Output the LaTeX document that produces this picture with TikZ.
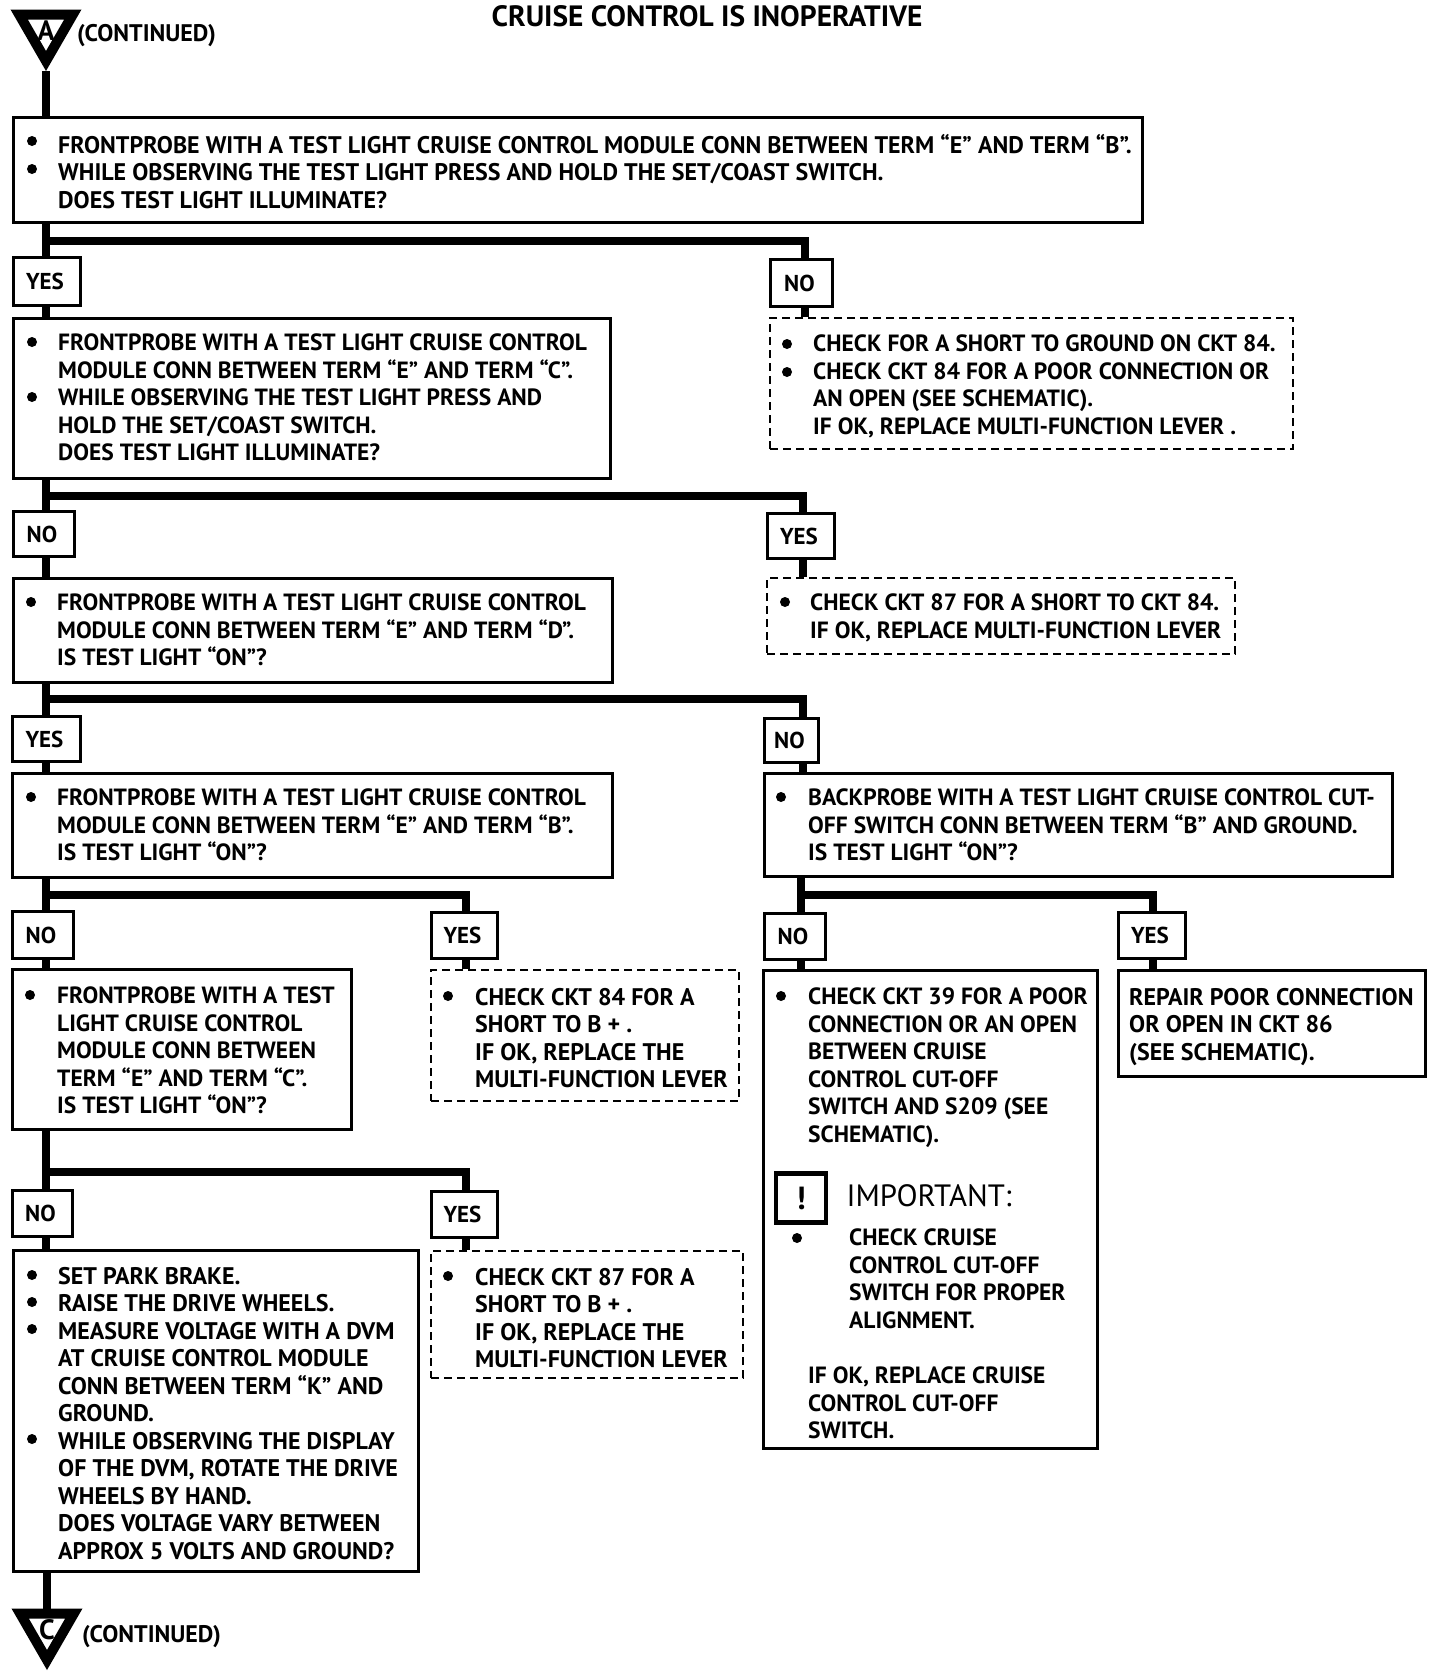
\documentclass[tikz,border=0pt]{standalone}
\usepackage{fontspec}
\setmainfont{PT Sans}
\usetikzlibrary{shapes.geometric, calc}
\tikzset{
  bodytxt/.style={anchor=north west, align=left, inner sep=0pt, yshift=1pt, font=\fontsize{23.5}{27.5}\selectfont\bfseries},
  widetxt/.style={bodytxt, font=\fontsize{24}{27.5}\selectfont\bfseries},
  qbox/.style={draw, line width=2.6pt, fill=white, anchor=north west, inner sep=0pt, xshift=-1pt, yshift=1pt},
  dashbox/.style={qbox, dashed, dash pattern=on 8pt off 5pt, line width=2.4pt},
  tagbox/.style={qbox, line width=3pt, font=\fontsize{23}{24}\selectfont\bfseries, execute at end node=\hspace{4pt}},
  dot/.style={circle, fill=black, inner sep=0pt, minimum size=10pt},
  flow/.style={line width=7.5pt, line cap=butt},
  contmark/.style={regular polygon, regular polygon sides=3, shape border rotate=180, draw, line width=10pt, inner sep=0pt, minimum size=62pt},
}
\begin{document}
\begin{tikzpicture}[x=1pt, y=-1pt]
  \useasboundingbox (0,0) rectangle (1440,1674);

  % Header
  \node[contmark] (markA) at (46,30) {};
  \node[font=\fontsize{28}{28}\selectfont\bfseries] (letterA) at (46,31) {A};
  \node[widetxt, anchor=west] (contA) at (77,37) {(CONTINUED)};
  \node[font=\fontsize{29.4}{30}\selectfont\bfseries] (title) at (707,16) {CRUISE CONTROL IS INOPERATIVE};

  % Left column boxes
  \node[qbox, minimum width=1129pt, minimum height=105pt] (q1) at (13,117) {};
  \node[tagbox, minimum width=67pt, minimum height=48pt] (yes1) at (13,257) {YES};
  \node[qbox, minimum width=597pt, minimum height=160pt] (q2) at (13,318) {};
  \node[tagbox, minimum width=61pt, minimum height=45pt] (no2) at (13,511) {NO};
  \node[qbox, minimum width=599pt, minimum height=104pt] (q3) at (13,578) {};
  \node[tagbox, minimum width=68pt, minimum height=45pt] (yes3) at (12,716) {YES};
  \node[qbox, minimum width=600pt, minimum height=104pt] (q4) at (12,773) {};
  \node[tagbox, minimum width=61pt, minimum height=47pt] (no4) at (12,911) {NO};
  \node[qbox, minimum width=339pt, minimum height=160pt] (q6) at (12,969) {};
  \node[tagbox, minimum width=60pt, minimum height=46pt] (no6) at (12,1190) {NO};
  \node[qbox, minimum width=405pt, minimum height=321pt] (q9) at (13,1250) {};

  % Middle column boxes
  \node[tagbox, minimum width=66pt, minimum height=46pt] (yes4) at (431,912) {YES};
  \node[dashbox, minimum width=308pt, minimum height=131pt] (r4) at (431,970) {};
  \node[tagbox, minimum width=66pt, minimum height=46pt] (yes6) at (431,1191) {YES};
  \node[dashbox, minimum width=312pt, minimum height=127pt] (r6) at (431,1251) {};

  % Right column boxes
  \node[tagbox, minimum width=62pt, minimum height=47pt] (no1) at (770,259) {NO};
  \node[dashbox, minimum width=523pt, minimum height=131pt] (r1) at (770,318) {};
  \node[tagbox, minimum width=67pt, minimum height=45pt] (yes2) at (767,513) {YES};
  \node[dashbox, minimum width=468pt, minimum height=76pt] (r2) at (767,578) {};
  \node[tagbox, minimum width=54pt, minimum height=44pt] (no3) at (764,718) {NO};
  \node[qbox, minimum width=628pt, minimum height=103pt] (q5) at (764,773) {};
  \node[tagbox, minimum width=61pt, minimum height=46pt] (no5) at (764,913) {NO};
  \node[qbox, minimum width=334pt, minimum height=478pt] (q7) at (763,970) {};
  \node[tagbox, minimum width=67pt, minimum height=46pt] (yes5) at (1118,912) {YES};
  \node[qbox, line width=3.2pt, minimum width=307pt, minimum height=106pt] (q8) at (1118,970) {};

  % Branch points
  \coordinate (tk) at (46,0);
  \coordinate (j1) at (46,241);
  \coordinate (j1r) at (805,241);
  \coordinate (j2) at (46,496);
  \coordinate (j2r) at (803,496);
  \coordinate (j3) at (46,699);
  \coordinate (j3r) at (803,699);
  \coordinate (j4) at (46,895);
  \coordinate (j4r) at (466,895);
  \coordinate (j5) at (801,895);
  \coordinate (j5r) at (1153,895);
  \coordinate (j6) at (46,1172);
  \coordinate (j6r) at (466,1172);

  % Connectors
  \draw[flow] (markA.south -| tk) -- (q1.north -| tk);
  \draw[flow] (q1.south -| tk) -- (yes1.north -| tk);
  \draw[flow] (yes1.south -| tk) -- (q2.north -| tk);
  \draw[flow] (q2.south -| tk) -- (no2.north -| tk);
  \draw[flow] (no2.south -| tk) -- (q3.north -| tk);
  \draw[flow] (q3.south -| tk) -- (yes3.north -| tk);
  \draw[flow] (yes3.south -| tk) -- (q4.north -| tk);
  \draw[flow] (q4.south -| tk) -- (no4.north -| tk);
  \draw[flow] (no4.south -| tk) -- (q6.north -| tk);
  \draw[flow] (q6.south -| tk) -- (no6.north -| tk);
  \draw[flow] (no6.south -| tk) -- (q9.north -| tk);
  \draw[flow] (j1) -- (j1r) -- (no1.north -| j1r);
  \draw[flow] (no1.south -| j1r) -- (r1.north -| j1r);
  \draw[flow] (j2) -- (j2r) -- (yes2.north -| j2r);
  \draw[flow] (yes2.south -| j2r) -- (r2.north -| j2r);
  \draw[flow] (j3) -- (j3r) -- (no3.north -| j3r);
  \draw[flow] (no3.south -| j3r) -- (q5.north -| j3r);
  \draw[flow] (j4) -- (j4r) -- (yes4.north -| j4r);
  \draw[flow] (yes4.south -| j4r) -- (r4.north -| j4r);
  \draw[flow] (j6) -- (j6r) -- (yes6.north -| j6r);
  \draw[flow] (yes6.south -| j6r) -- (r6.north -| j6r);
  \draw[flow] (q5.south -| j5) -- (no5.north -| j5);
  \draw[flow] (no5.south -| j5) -- (q7.north -| j5);
  \draw[flow] (j5) -- (j5r) -- (yes5.north -| j5r);
  \draw[flow] (yes5.south -| j5r) -- (q8.north -| j5r);

  % Box texts
  \node[dot] (d1a) at (32,141) {};
  \node[dot] (d1b) at (32,169) {};
  \node[widetxt] (t1) at (58,135) {FRONTPROBE WITH A TEST LIGHT CRUISE CONTROL MODULE CONN BETWEEN TERM “E” AND TERM “B”.\\WHILE OBSERVING THE TEST LIGHT PRESS AND HOLD THE SET/COAST SWITCH.\\DOES TEST LIGHT ILLUMINATE?};

  \node[dot] (d2a) at (32,342) {};
  \node[dot] (d2b) at (32,397) {};
  \node[bodytxt] (t2) at (58,335) {FRONTPROBE WITH A TEST LIGHT CRUISE CONTROL\\MODULE CONN BETWEEN TERM “E” AND TERM “C”.\\WHILE OBSERVING THE TEST LIGHT PRESS AND\\HOLD THE SET/COAST SWITCH.\\DOES TEST LIGHT ILLUMINATE?};

  \node[dot] (d3) at (787,344) {};
  \node[dot] (d3b) at (787,372) {};
  \node[bodytxt] (t3) at (813,336) {CHECK FOR A SHORT TO GROUND ON CKT 84.\\CHECK CKT 84 FOR A POOR CONNECTION OR\\AN OPEN (SEE SCHEMATIC).\\IF OK, REPLACE MULTI-FUNCTION LEVER .};

  \node[dot] (d4) at (31,602) {};
  \node[bodytxt] (t4) at (57,595) {FRONTPROBE WITH A TEST LIGHT CRUISE CONTROL\\MODULE CONN BETWEEN TERM “E” AND TERM “D”.\\IS TEST LIGHT “ON”?};

  \node[dot] (d5) at (785,602) {};
  \node[bodytxt] (t5) at (810,595) {CHECK CKT 87 FOR A SHORT TO CKT 84.\\IF OK, REPLACE MULTI-FUNCTION LEVER};

  \node[dot] (d6) at (31,797) {};
  \node[bodytxt] (t6) at (57,790) {FRONTPROBE WITH A TEST LIGHT CRUISE CONTROL\\MODULE CONN BETWEEN TERM “E” AND TERM “B”.\\IS TEST LIGHT “ON”?};

  \node[dot] (d7) at (781,797) {};
  \node[bodytxt] (t7) at (808,790) {BACKPROBE WITH A TEST LIGHT CRUISE CONTROL CUT-\\OFF SWITCH CONN BETWEEN TERM “B” AND GROUND.\\IS TEST LIGHT “ON”?};

  \node[dot] (d8) at (30,995) {};
  \node[bodytxt] (t8) at (57,988) {FRONTPROBE WITH A TEST\\LIGHT CRUISE CONTROL\\MODULE CONN BETWEEN\\TERM “E” AND TERM “C”.\\IS TEST LIGHT “ON”?};

  \node[dot] (d9) at (448,996) {};
  \node[widetxt] (t9) at (475,989) {CHECK CKT 84 FOR A\\SHORT TO B + .\\IF OK, REPLACE THE\\MULTI-FUNCTION LEVER};

  \node[dot] (d10) at (781,996) {};
  \node[bodytxt] (t10) at (808,989) {CHECK CKT 39 FOR A POOR\\CONNECTION OR AN OPEN\\BETWEEN CRUISE\\CONTROL CUT-OFF\\SWITCH AND S209 (SEE\\SCHEMATIC).};

  \node[widetxt] (t11) at (1129,989) {REPAIR POOR CONNECTION\\OR OPEN IN CKT 86\\(SEE SCHEMATIC).};

  % Important note
  \node[draw, line width=4.5pt, minimum width=50pt, minimum height=49pt, inner sep=0pt] (warn) at (801,1198) {};
  \node[font=\fontsize{32}{32}\selectfont\bfseries] (warnx) at (warn) {!};
  \node[font=\fontsize{30.8}{32}\selectfont, anchor=west] (imp) at (843,1196) {IMPORTANT:};
  \node[dot] (d12) at (797,1238) {};
  \node[bodytxt] (t12) at (849,1230) {CHECK CRUISE\\CONTROL CUT-OFF\\SWITCH FOR PROPER\\ALIGNMENT.};
  \node[bodytxt] (t13) at (808,1368) {IF OK, REPLACE CRUISE\\CONTROL CUT-OFF\\SWITCH.};

  \node[dot] (d14a) at (32,1275) {};
  \node[dot] (d14b) at (32,1302) {};
  \node[dot] (d14c) at (32,1329) {};
  \node[dot] (d14d) at (32,1439) {};
  \node[widetxt] (t14) at (58,1268) {SET PARK BRAKE.\\RAISE THE DRIVE WHEELS.\\MEASURE VOLTAGE WITH A DVM\\AT CRUISE CONTROL MODULE\\CONN BETWEEN TERM “K” AND\\GROUND.\\WHILE OBSERVING THE DISPLAY\\OF THE DVM, ROTATE THE DRIVE\\WHEELS BY HAND.\\DOES VOLTAGE VARY BETWEEN\\APPROX 5 VOLTS AND GROUND?};

  \node[dot] (d15) at (448,1276) {};
  \node[widetxt] (t15) at (475,1269) {CHECK CKT 87 FOR A\\SHORT TO B + .\\IF OK, REPLACE THE\\MULTI-FUNCTION LEVER};

  % Footer
  \node[contmark] (markC) at (47,1629) {};
  \node[font=\fontsize{28}{28}\selectfont\bfseries] (letterC) at (47,1630) {C};
  \node[widetxt, anchor=west] (contC) at (82,1638) {(CONTINUED)};
  \draw[flow] (q9.south -| markC) -- (markC.north -| markC);
\end{tikzpicture}
\end{document}
